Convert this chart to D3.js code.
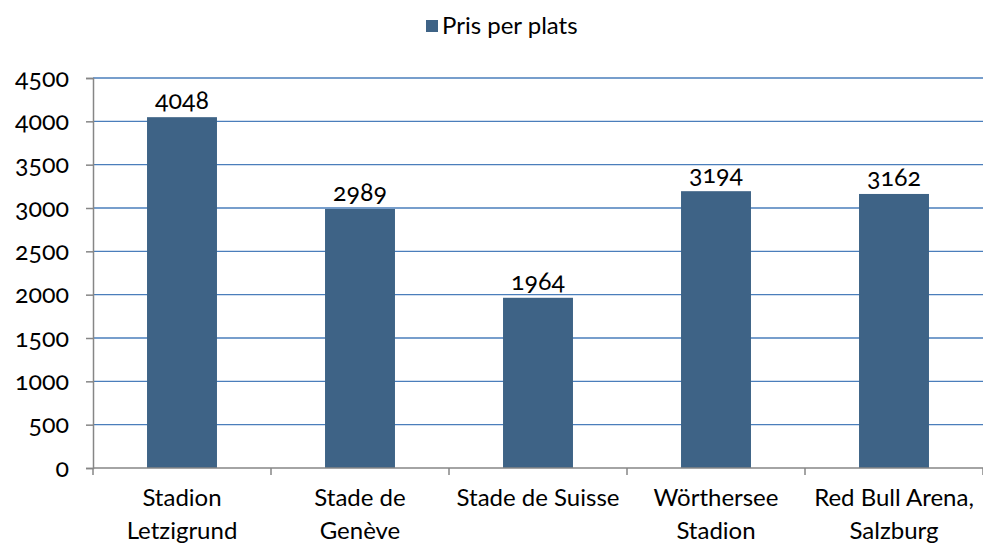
<!DOCTYPE html>
<html>
<head>
<meta charset="utf-8">
<script src="https://cdn.jsdelivr.net/npm/d3@7"></script>
<style>
  body { margin: 0; background: #fff; }
  svg text { font-family: Lato, 'Open Sans', sans-serif; fill: #000; font-feature-settings: 'onum'; }
  svg text.ylabel { font-size: 25px; }
</style>
</head>
<body>
<div id="chart"></div>
<script>
var categories = [['Stadion', 'Letzigrund'], ['Stade de', 'Genève'], ['Stade de Suisse'], ['Wörthersee', 'Stadion'], ['Red Bull Arena,', 'Salzburg']]
var values = [4048, 2989, 1964, 3194, 3162]
var yTicks = [0, 500, 1000, 1500, 2000, 2500, 3000, 3500, 4000, 4500]
var seriesName = 'Pris per plats'

var width = 983
var height = 543
var plotLeft = 93
var plotRight = 983
var plotTop = 78
var plotBottom = 468

var svg = d3.select('#chart').append('svg')
  .attr('width', width)
  .attr('height', height)

var x = d3.scaleBand()
  .domain(d3.range(categories.length))
  .range([plotLeft, plotRight])
  .paddingInner(0.607)
  .paddingOuter(0.3035)

var y = d3.scaleLinear()
  .domain([0, 4500])
  .range([plotBottom, plotTop])

// gridlines
svg.append('g').selectAll('line')
  .data(yTicks.filter(function (d) { return d > 0 }))
  .enter().append('line')
  .attr('x1', plotLeft).attr('x2', plotRight)
  .attr('y1', function (d) { return y(d) }).attr('y2', function (d) { return y(d) })
  .attr('stroke', '#4a7ebb').attr('stroke-width', 1.3)

// bars
svg.append('g').selectAll('rect')
  .data(values)
  .enter().append('rect')
  .attr('x', function (d, i) { return x(i) })
  .attr('width', x.bandwidth())
  .attr('y', function (d) { return y(d) })
  .attr('height', function (d) { return plotBottom - y(d) })
  .attr('fill', '#3e6386')

// value labels
svg.append('g').selectAll('text')
  .data(values)
  .enter().append('text')
  .attr('x', function (d, i) { return x(i) + x.bandwidth() / 2 })
  .attr('y', function (d) { return y(d) - 8 })
  .attr('text-anchor', 'middle')
  .attr('font-size', 25)
  .text(function (d) { return d })

// y axis (lines from d3.axisLeft, labels drawn separately)
var yAxis = svg.append('g')
  .attr('transform', 'translate(' + plotLeft + ',0)')
  .call(d3.axisLeft(y).tickValues(yTicks).tickFormat('').tickSize(7))
yAxis.select('.domain').attr('stroke', '#868686').attr('stroke-width', 1.5)
yAxis.selectAll('.tick line').attr('stroke', '#868686').attr('stroke-width', 1.5)

svg.append('g').selectAll('text')
  .data(yTicks)
  .enter().append('text')
  .attr('class', 'ylabel')
  .attr('x', plotLeft - 24)
  .attr('y', function (d) { return y(d) })
  .attr('dy', '0.35em')
  .attr('text-anchor', 'end')
  .text(function (d) { return d })

// x axis
var xAxis = svg.append('g')
  .attr('transform', 'translate(0,' + plotBottom + ')')
xAxis.append('line')
  .attr('x1', plotLeft).attr('x2', plotRight)
  .attr('stroke', '#868686').attr('stroke-width', 1.5)
var step = x.step()
xAxis.selectAll('.xtick')
  .data(d3.range(categories.length + 1))
  .enter().append('line')
  .attr('class', 'xtick')
  .attr('x1', function (d) { return plotLeft + d * step })
  .attr('x2', function (d) { return plotLeft + d * step })
  .attr('y1', 0).attr('y2', 7)
  .attr('stroke', '#868686').attr('stroke-width', 1.5)

var labels = xAxis.selectAll('.xlabel')
  .data(categories)
  .enter().append('text')
  .attr('class', 'xlabel')
  .attr('text-anchor', 'middle')
  .attr('font-size', 24)
  .attr('transform', function (d, i) { return 'translate(' + (x(i) + x.bandwidth() / 2) + ',0)' })
labels.selectAll('tspan')
  .data(function (d) { return d })
  .enter().append('tspan')
  .attr('x', 0)
  .attr('y', function (d, i) { return 38 + i * 33 })
  .text(function (d) { return d })

// legend
var legend = svg.append('g')
legend.append('rect')
  .attr('x', 426).attr('y', 20)
  .attr('width', 12).attr('height', 12)
  .attr('fill', '#3e6386')
legend.append('text')
  .attr('x', 442).attr('y', 34)
  .attr('font-size', 24)
  .text(seriesName)
</script>
</body>
</html>
